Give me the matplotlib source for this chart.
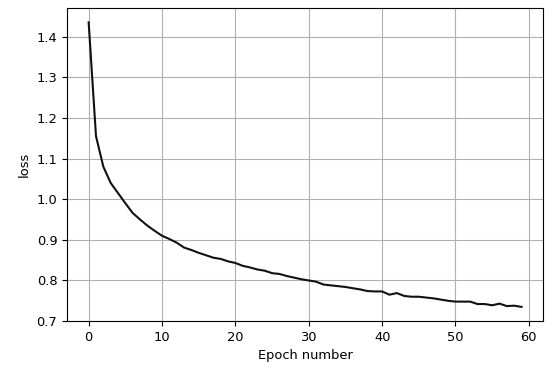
import matplotlib
matplotlib.use("Agg")
import matplotlib.pyplot as plt

epochs = list(range(60))
loss = [1.435, 1.155, 1.080, 1.040, 1.015, 0.990, 0.966, 0.950, 0.935, 0.922,
        0.910, 0.902, 0.893, 0.881, 0.875, 0.868, 0.862, 0.856, 0.853, 0.847,
        0.843, 0.836, 0.832, 0.827, 0.824, 0.818, 0.816, 0.811, 0.807, 0.803,
        0.800, 0.797, 0.790, 0.788, 0.786, 0.784, 0.781, 0.778, 0.774, 0.773,
        0.773, 0.765, 0.769, 0.762, 0.760, 0.760, 0.758, 0.756, 0.753, 0.750,
        0.748, 0.748, 0.748, 0.742, 0.742, 0.739, 0.743, 0.737, 0.738, 0.735]

plt.rcParams['font.size'] = 9.4

fig = plt.figure(figsize=(5.47, 3.67), dpi=100)
ax = fig.add_subplot(111)
fig.subplots_adjust(left=0.1225, right=0.993, bottom=0.125, top=0.978)

ax.plot(epochs, loss, color='#111111', linewidth=1.5)
ax.grid(True)
ax.set_xlabel('Epoch number')
ax.set_ylabel('loss')

fig.savefig('out.png', dpi=100)
